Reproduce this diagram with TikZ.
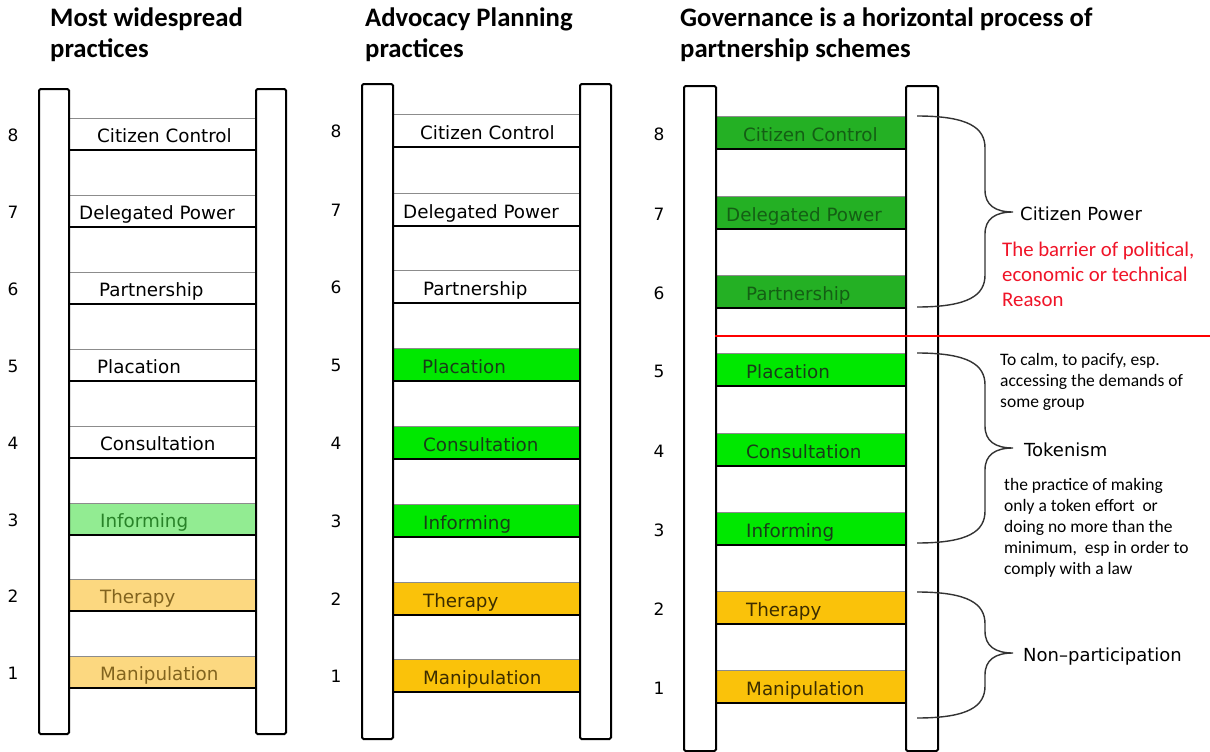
\documentclass[tikz,border=0pt]{standalone}
\usepackage{fontspec}
\setmainfont{DejaVu Sans}
\newfontfamily\calfont{Carlito}
\definecolor{dkgreen}{RGB}{36,176,36}
\definecolor{limegr}{RGB}{0,232,0}
\definecolor{goldy}{RGB}{250,194,10}
\definecolor{ltgreen}{RGB}{146,236,146}
\definecolor{ltgold}{RGB}{252,216,128}
\definecolor{txtgreen}{RGB}{40,130,40}
\definecolor{txtgold}{RGB}{130,100,30}
\definecolor{txtdk}{RGB}{25,60,25}
\definecolor{txtbr}{RGB}{60,45,0}
\definecolor{txtdg}{RGB}{20,95,20}
\definecolor{redtxt}{RGB}{240,20,40}
\tikzset{
  rungbox/.style={draw=black!45, line width=0.8pt, inner sep=0pt},
  rungline/.style={draw=black, line width=2.2pt},
  rail/.style={draw=black, line width=2pt, fill=white, inner sep=0pt, rounded corners=1.5pt},
  lab/.style={inner sep=0pt, font=\fontsize{18.3}{20}\selectfont},
  num/.style={inner sep=0pt, font=\fontsize{17}{20}\selectfont},
  ttl/.style={inner sep=0pt, align=left, anchor=north west, font=\calfont\bfseries\fontsize{26.7}{31}\selectfont},
  bracepath/.style={draw=black!80, line width=1.4pt},
  ann/.style={inner sep=0pt, font=\fontsize{18}{20}\selectfont},
  note/.style={inner sep=0pt, align=left, anchor=north west, font=\calfont\fontsize{17.5}{21}\selectfont},
}
\newcommand\rungrow[8]{%
  \node[rungbox, fill=#5, minimum width=#3, minimum height=\rh, anchor=north west] (#1) at (#2,#4) {};
  \draw[rungline] (#1.south west) -- (#1.south east);
  \node[lab, text=#8, anchor=base west] (#1t) at (#7,#4+\rh-7) {#6};
}
\newcommand\bracedraw[4]{%
  \draw[bracepath] (#1,#2) .. controls (#1+52,#2) and (#1+68,#2+12) .. (#1+68,#2+32)
    -- (#1+68,#4-22) .. controls (#1+68,#4-7) and (#1+78,#4) .. (#1+96,#4)
    .. controls (#1+78,#4) and (#1+68,#4+7) .. (#1+68,#4+22)
    -- (#1+68,#3-32) .. controls (#1+68,#3-12) and (#1+52,#3) .. (#1,#3);
}
\begin{document}
\begin{tikzpicture}[x=1pt,y=-1pt]
\useasboundingbox[fill=white] (0,0) rectangle (1210,752);

% titles
\node[ttl] (t1) at (50,8) {Most widespread\\practices};
\node[ttl] (t2) at (365,8) {Advocacy Planning\\practices};
\node[ttl] (t3) at (680,8) {Governance is a horizontal process of\\partnership schemes};

% ladder 1
\def\rh{31}
\rungrow{a8}{68}{187}{118}{white}{Citizen Control}{97}{black}
\rungrow{a7}{68}{187}{195}{white}{Delegated Power}{79}{black}
\rungrow{a6}{68}{187}{272}{white}{Partnership}{99}{black}
\rungrow{a5}{68}{187}{349}{white}{Placation}{97}{black}
\rungrow{a4}{68}{187}{426}{white}{Consultation}{100}{black}
\rungrow{a3}{68}{187}{503}{ltgreen}{Informing}{100}{txtgreen}
\rungrow{a2}{68}{189}{579}{ltgold}{Therapy}{100}{txtgold}
\rungrow{a1}{68}{189}{656}{ltgold}{Manipulation}{100}{txtgold}
\node[rail, minimum width=30, minimum height=645, anchor=north west] (aL) at (38,88) {};
\node[rail, minimum width=30, minimum height=645, anchor=north west] (aR) at (255,88) {};
\foreach \n/\y in {8/135,7/212,6/289,5/366,4/443,3/520,2/596,1/673}
  \node[num] (an\n) at (13,\y) {\n};

% ladder 2
\def\rh{32}
\rungrow{b8}{392}{187}{114}{white}{Citizen Control}{420}{black}
\rungrow{b7}{392}{187}{193}{white}{Delegated Power}{403}{black}
\rungrow{b6}{392}{187}{270}{white}{Partnership}{423}{black}
\rungrow{b5}{392}{187}{348}{limegr}{Placation}{422}{txtdk}
\rungrow{b4}{392}{187}{426}{limegr}{Consultation}{423}{txtdk}
\rungrow{b3}{392}{187}{504}{limegr}{Informing}{423}{txtdk}
\rungrow{b2}{392}{187}{582}{goldy}{Therapy}{423}{txtbr}
\rungrow{b1}{392}{187}{659}{goldy}{Manipulation}{423}{txtbr}
\node[rail, minimum width=31, minimum height=655, anchor=north west] (bL) at (361,83) {};
\node[rail, minimum width=31, minimum height=655, anchor=north west] (bR) at (579,83) {};
\foreach \n/\y in {8/131,7/210,6/287,5/365,4/443,3/521,2/599,1/676}
  \node[num] (bn\n) at (336,\y) {\n};

% ladder 3
\rungrow{c8}{715}{190}{116}{dkgreen}{Citizen Control}{743}{txtdg}
\rungrow{c7}{715}{190}{196}{dkgreen}{Delegated Power}{726}{txtdg}
\rungrow{c6}{715}{190}{275}{dkgreen}{Partnership}{746}{txtdg}
\rungrow{c5}{715}{190}{353}{limegr}{Placation}{746}{txtdk}
\rungrow{c4}{715}{190}{433}{limegr}{Consultation}{746}{txtdk}
\rungrow{c3}{715}{190}{512}{limegr}{Informing}{746}{txtdk}
\rungrow{c2}{715}{190}{591}{goldy}{Therapy}{746}{txtbr}
\rungrow{c1}{715}{190}{670}{goldy}{Manipulation}{746}{txtbr}
\node[rail, minimum width=32, minimum height=665, anchor=north west] (cL) at (683,85) {};
\node[rail, minimum width=32, minimum height=665, anchor=north west] (cR) at (905,85) {};
\foreach \n/\y in {8/134,7/214,6/293,5/371,4/451,3/530,2/609,1/688}
  \node[num] (cn\n) at (659,\y) {\n};

% red barrier line
\coordinate (redL) at (715,336);
\coordinate (redR) at (1210,336);
\draw[red, line width=1.6pt] (redL) -- (redR);

% braces
\bracedraw{917}{116}{307}{212}
\bracedraw{917}{353}{543}{448}
\bracedraw{917}{592}{718}{653}

% annotations
\node[ann, anchor=base west] (cp) at (1020,220) {Citizen Power};
\node[note, text=redtxt, font=\calfont\fontsize{20.8}{25}\selectfont] (bar) at (1002,242) {The barrier of political,\\economic or technical\\Reason};
\node[note] (calm) at (1000,353) {To calm, to pacify, esp.\\accessing the demands of\\some group};
\node[ann, anchor=base west] (tok) at (1024,456) {Tokenism};
\node[note] (prac) at (1004,478) {the practice of making\\only a token effort\ \ or\\doing no more\ than the\\minimum,\ \ esp in order to\\comply with a law};
\node[ann, anchor=base west] (np) at (1023,661) {Non--participation};
\end{tikzpicture}
\end{document}
